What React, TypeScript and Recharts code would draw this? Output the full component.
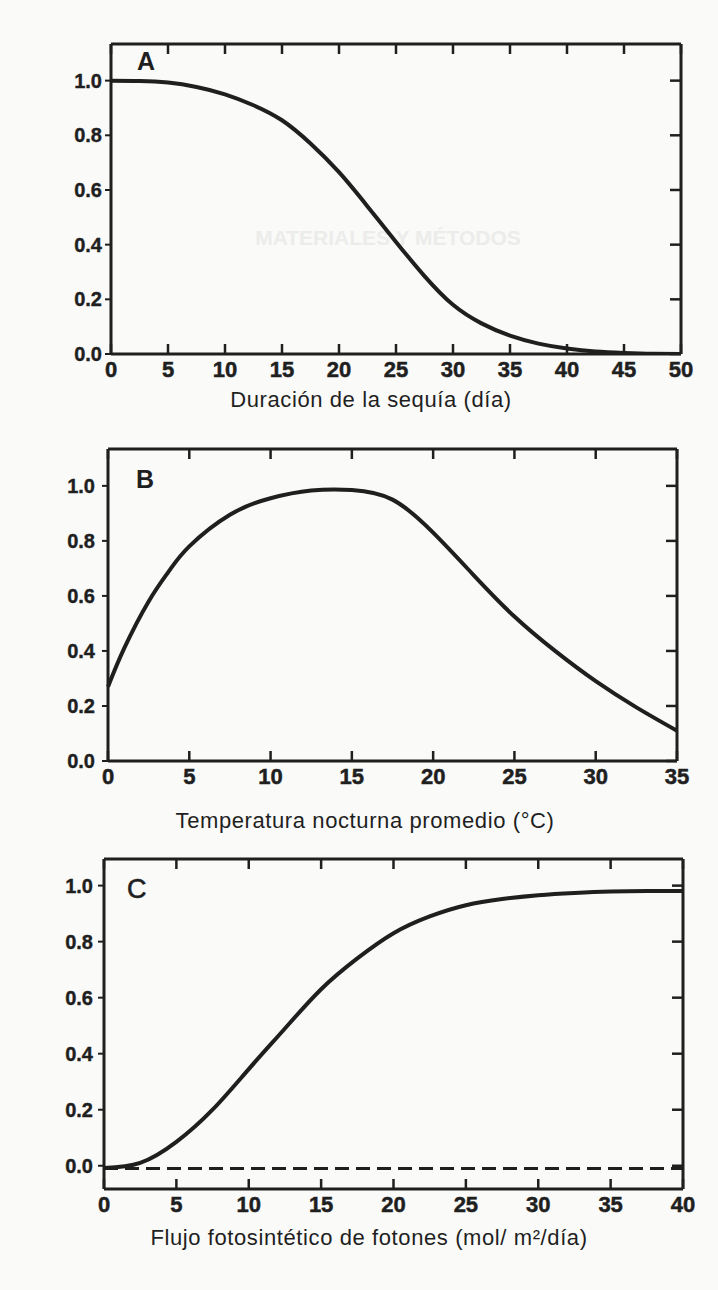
import { LineChart, Line, XAxis, YAxis } from 'recharts'

const INK = '#1f1f1f'
const PAPER = '#fafaf9'
const FONT = '"Liberation Sans", Arial, Helvetica, sans-serif'

// A - duración de la sequía
const sequiaDias = [0, 2.5, 5, 7.5, 10, 12.5, 15, 17.5, 20, 22.5, 25, 27.5, 30, 32.5, 35, 37.5, 40, 42.5, 45, 47.5, 50]
const sequiaFactor = [1.0, 0.999, 0.993, 0.977, 0.95, 0.91, 0.855, 0.77, 0.665, 0.54, 0.41, 0.285, 0.18, 0.112, 0.067, 0.038, 0.02, 0.009, 0.004, 0.001, 0.0]
const sequiaTicks = [0, 5, 10, 15, 20, 25, 30, 35, 40, 45, 50]

// B - temperatura nocturna
const tempNoche = [0, 1, 2.5, 3.75, 5, 7.5, 10, 12.5, 15, 17.5, 20, 22.5, 25, 27.5, 30, 32.5, 35]
const tempFactor = [0.27, 0.41, 0.58, 0.69, 0.78, 0.895, 0.955, 0.983, 0.985, 0.95, 0.83, 0.675, 0.525, 0.4, 0.29, 0.195, 0.11]
const tempTicks = [0, 5, 10, 15, 20, 25, 30, 35]

// C - flujo fotosintético de fotones
const flujoFotones = [0, 2.5, 5, 7.5, 10, 12.5, 15, 17.5, 20, 22.5, 25, 27.5, 30, 32.5, 35, 37.5, 40]
const flujoFactor = [-0.008, 0.01, 0.085, 0.2, 0.345, 0.49, 0.63, 0.74, 0.83, 0.89, 0.93, 0.952, 0.966, 0.974, 0.979, 0.981, 0.981]
const flujoBase = [-0.01, -0.01, -0.01, -0.01, -0.01, -0.01, -0.01, -0.01, -0.01, -0.01, -0.01, -0.01, -0.01, -0.01, -0.01, -0.01, -0.01]
const flujoTicks = [0, 5, 10, 15, 20, 25, 30, 35, 40]

const yTicks = [0, 0.2, 0.4, 0.6, 0.8, 1.0]

const dataA = sequiaDias.map((x, i) => ({ x, y: sequiaFactor[i] }))
const dataB = tempNoche.map((x, i) => ({ x, y: tempFactor[i] }))
const dataC = flujoFotones.map((x, i) => ({ x, y: flujoFactor[i], base: flujoBase[i] }))

function BottomTick(p: any) {
  return (
    <g>
      <line x1={p.x} x2={p.x} y1={p.y} y2={p.y - 10} stroke={INK} strokeWidth={2.5} />
      <text
        x={p.x}
        y={p.y + 23}
        textAnchor="middle"
        fontSize={22}
        fontWeight={700}
        fill={INK}
        stroke={INK}
        strokeWidth={0.5}
        fontFamily={FONT}
      >
        {p.payload.value}
      </text>
    </g>
  )
}

function TopTick(p: any) {
  return <line x1={p.x} x2={p.x} y1={p.y} y2={p.y + 10} stroke={INK} strokeWidth={2.5} />
}

function RightTick(p: any) {
  return <line x1={p.x} x2={p.x - 11} y1={p.y} y2={p.y} stroke={INK} strokeWidth={2.5} />
}

type PanelProps = {
  data: any[]
  xTicks: number[]
  yDomain: [number, number]
  height: number
  margin: { top: number; right: number; bottom: number; left: number }
  labelGap: number
  children: any
}

function Panel({ data, xTicks, yDomain, height, margin, labelGap, children }: PanelProps) {
  const xDomain = [xTicks[0], xTicks[xTicks.length - 1]]
  const box = { stroke: INK, strokeWidth: 3 }
  return (
    <LineChart width={718} height={height} data={data} margin={margin}>
      <XAxis
        xAxisId="b"
        dataKey="x"
        type="number"
        domain={xDomain}
        ticks={xTicks}
        interval={0}
        height={40}
        axisLine={box}
        tickLine={false}
        tickSize={0}
        tickMargin={0}
        tick={(p: any) => <BottomTick {...p} />}
      />
      <XAxis
        xAxisId="t"
        orientation="top"
        dataKey="x"
        type="number"
        domain={xDomain}
        ticks={xTicks}
        interval={0}
        height={12}
        axisLine={box}
        tickLine={false}
        tickSize={0}
        tickMargin={0}
        tick={(p: any) => <TopTick {...p} />}
      />
      <YAxis
        yAxisId="l"
        type="number"
        domain={yDomain}
        ticks={yTicks}
        interval={0}
        allowDataOverflow
        width={60}
        axisLine={box}
        tickLine={{ stroke: INK, strokeWidth: 2 }}
        tickSize={6}
        tickMargin={labelGap}
        tickFormatter={(v: number) => v.toFixed(1)}
        tick={{ fontSize: 20, fontWeight: 700, fill: INK, stroke: INK, strokeWidth: 0.4, fontFamily: FONT }}
      />
      <YAxis
        yAxisId="r"
        orientation="right"
        type="number"
        domain={yDomain}
        ticks={yTicks}
        interval={0}
        allowDataOverflow
        width={12}
        axisLine={box}
        tickLine={false}
        tickSize={0}
        tickMargin={0}
        tick={(p: any) => <RightTick {...p} />}
      />
      {children}
    </LineChart>
  )
}

const textStyle = { fontFamily: FONT, fill: INK }

export default function App() {
  return (
    <div style={{ position: 'absolute', left: 0, top: 0, width: 718, height: 1290, background: PAPER, overflow: 'hidden' }}>
      <svg width={718} height={1290} style={{ position: 'absolute', left: 0, top: 0 }}>
        <text x={388} y={245} textAnchor="middle" fontSize={21} fontWeight={700} fill="#ececeb" fontFamily={FONT}>
          MATERIALES Y MÉTODOS
        </text>
        <text x={137} y={70} fontSize={25} fontWeight={700} {...textStyle}>A</text>
        <text x={136} y={488} fontSize={25} fontWeight={700} {...textStyle}>B</text>
        <text x={127} y={898} fontSize={27} {...textStyle} stroke={INK} strokeWidth={0.6}>C</text>
        <text x={371} y={407} textAnchor="middle" fontSize={22} letterSpacing={0.6} {...textStyle}>
          Duración de la sequía (día)
        </text>
        <text x={365} y={828} textAnchor="middle" fontSize={22} letterSpacing={0.6} {...textStyle}>
          Temperatura nocturna promedio (°C)
        </text>
        <text x={369} y={1245} textAnchor="middle" fontSize={22} letterSpacing={0.6} {...textStyle}>
          Flujo fotosintético de fotones  (mol/ m²/día)
        </text>
      </svg>

      <div style={{ position: 'absolute', left: 0, top: 0 }}>
        <Panel
          data={dataA}
          xTicks={sequiaTicks}
          yDomain={[0, 1.134]}
          height={430}
          margin={{ top: 32, right: 25, bottom: 36, left: 51 }}
          labelGap={3}
        >
          <Line xAxisId="b" yAxisId="l" dataKey="y" type="natural" stroke={INK} strokeWidth={4} dot={false} isAnimationActive={false} />
        </Panel>
      </div>

      <div style={{ position: 'absolute', left: 0, top: 430 }}>
        <Panel
          data={dataB}
          xTicks={tempTicks}
          yDomain={[0, 1.134]}
          height={400}
          margin={{ top: 7, right: 29, bottom: 29, left: 48 }}
          labelGap={7}
        >
          <Line xAxisId="b" yAxisId="l" dataKey="y" type="natural" stroke={INK} strokeWidth={4} dot={false} isAnimationActive={false} />
        </Panel>
      </div>

      <div style={{ position: 'absolute', left: 0, top: 830 }}>
        <Panel
          data={dataC}
          xTicks={flujoTicks}
          yDomain={[-0.083, 1.095]}
          height={460}
          margin={{ top: 17, right: 23, bottom: 61, left: 44 }}
          labelGap={5}
        >
          <Line xAxisId="b" yAxisId="l" dataKey="base" type="linear" stroke={INK} strokeWidth={3} strokeDasharray="14 7" dot={false} isAnimationActive={false} />
          <Line xAxisId="b" yAxisId="l" dataKey="y" type="natural" stroke={INK} strokeWidth={4} dot={false} isAnimationActive={false} />
        </Panel>
      </div>
    </div>
  )
}
